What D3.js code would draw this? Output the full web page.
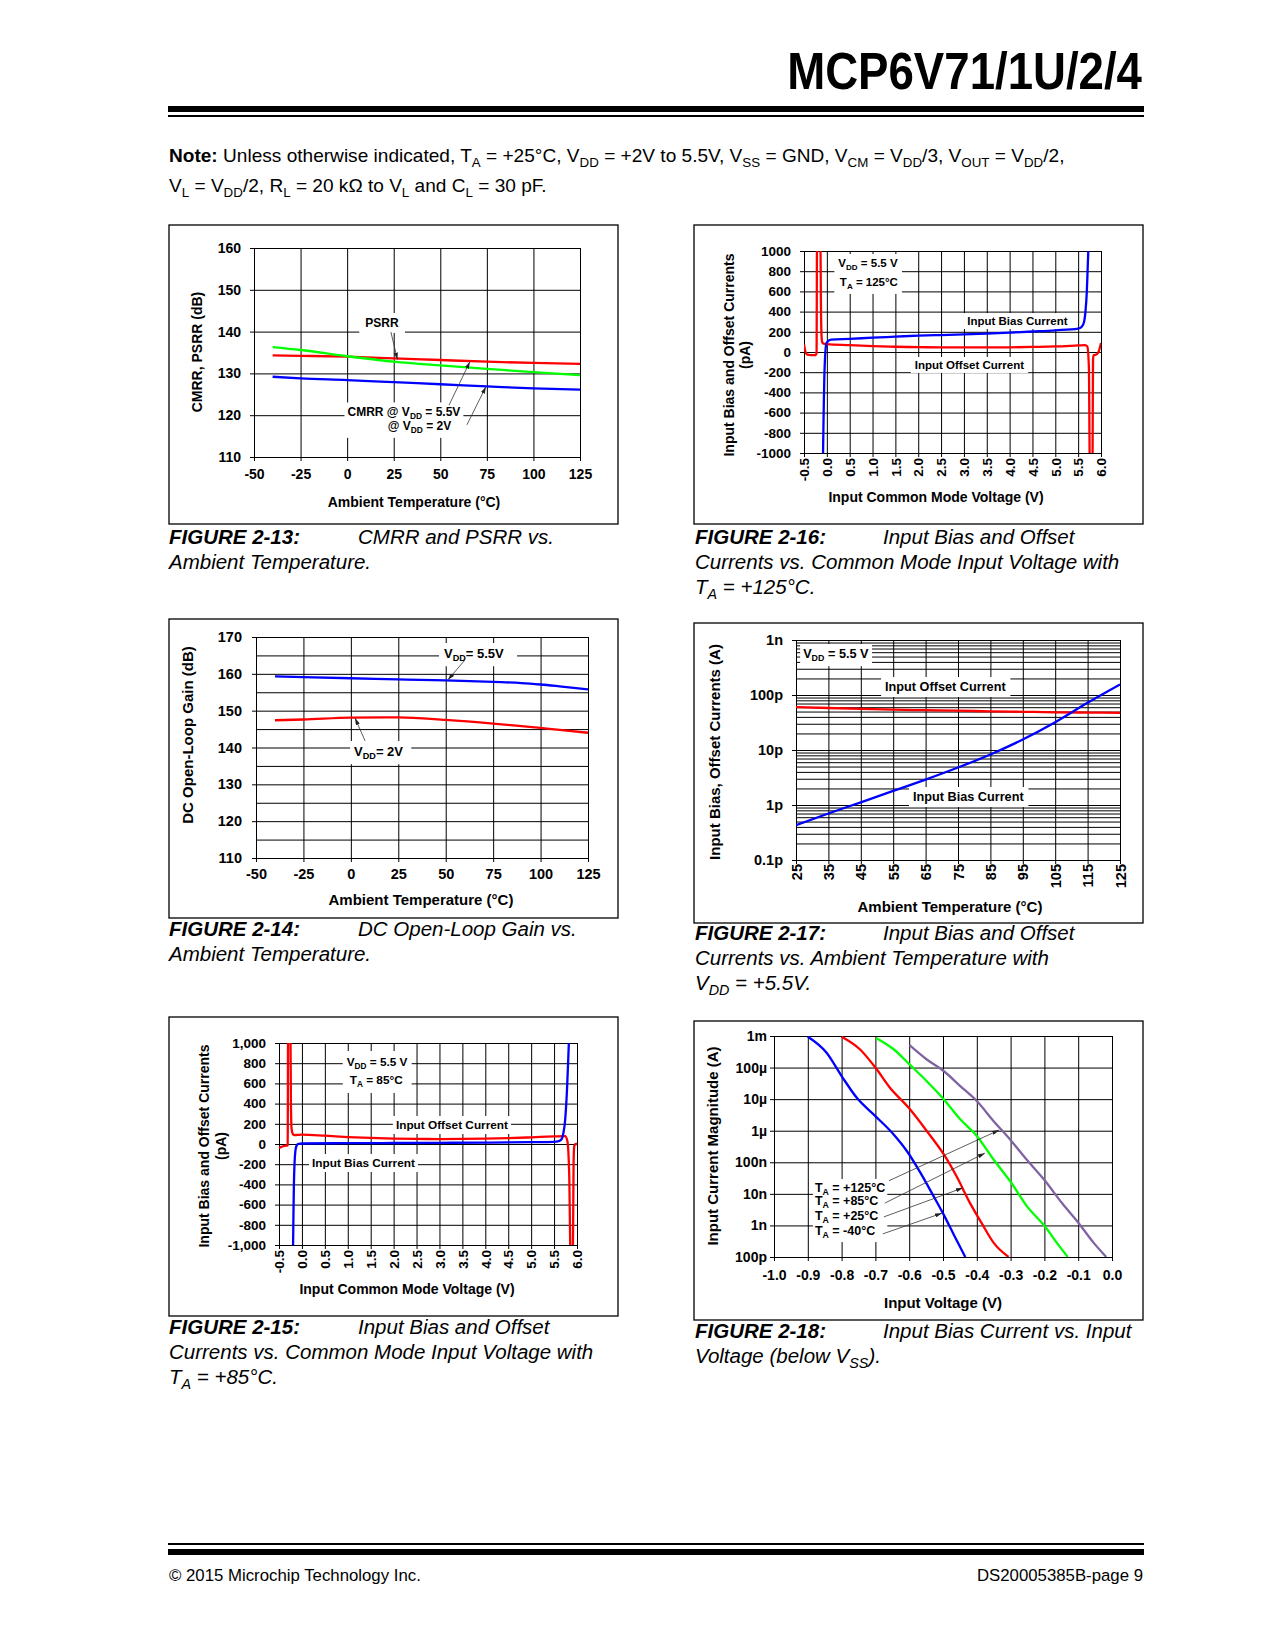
<!DOCTYPE html>
<html><head><meta charset="utf-8">
<script src="https://cdn.jsdelivr.net/npm/d3@7"></script>
<style>
body{margin:0;background:#fff;}
svg{display:block;}
svg text{font-family:"Liberation Sans", Arial, Helvetica, sans-serif;fill:#000;}
</style></head><body>
<svg id="page" width="1275" height="1650"></svg>
<script>
// ================= DATA =================
// FIGURE 2-13: CMRR and PSRR vs. Ambient Temperature
const temp13 = [-40, -25, 0, 25, 50, 75, 100, 125];
const red13 = [134.3, 134.2, 134.0, 133.6, 133.2, 132.8, 132.5, 132.3];
const green13 = [136.3, 135.6, 134.1, 132.8, 131.9, 131.1, 130.3, 129.6];
const blue13 = [129.2, 128.8, 128.4, 127.9, 127.4, 126.9, 126.4, 126.1];
const xTicks13 = [-50, -25, 0, 25, 50, 75, 100, 125];
const xLabels13 = ["-50", "-25", "0", "25", "50", "75", "100", "125"];
const yTicks13 = [110, 120, 130, 140, 150, 160];
const yLabels13 = ["110", "120", "130", "140", "150", "160"];

// FIGURE 2-14: DC Open-Loop Gain vs. Ambient Temperature
const temp14 = [-40, -25, 0, 25, 50, 75, 90, 100, 110, 125];
const blue14 = [159.3, 159.1, 158.8, 158.5, 158.2, 157.8, 157.5, 157.1, 156.6, 155.8];
const red14 = [147.4, 147.6, 148.1, 148.2, 147.5, 146.5, 145.8, 145.3, 144.8, 144.0];
const xTicks14 = [-50, -25, 0, 25, 50, 75, 100, 125];
const xLabels14 = ["-50", "-25", "0", "25", "50", "75", "100", "125"];
const yTicks14 = [110, 120, 130, 140, 150, 160, 170];
const yLabels14 = ["110", "120", "130", "140", "150", "160", "170"];
const yGrid14 = [110, 115, 120, 125, 130, 135, 140, 145, 150, 155, 160, 165, 170];

// FIGURE 2-16: Input bias / offset vs VCM, TA = 125C (pA)
const vIb16 = [-0.09, -0.083, -0.075, -0.065, -0.055, -0.04, -0.025, -0.01, 0.02, 0.06, 0.1, 0.5, 1.0, 1.5, 2.0, 2.5, 3.0, 3.5, 4.0, 4.5, 5.0, 5.5, 5.58, 5.63, 5.66, 5.69, 5.71, 5.73];
const ib16 = [-1100, -1000, -750, -480, -250, -60, 40, 85, 105, 118, 123, 130, 142, 152, 162, 168, 174, 182, 192, 203, 215, 232, 250, 300, 400, 600, 850, 1100];
const vIos16 = [-0.5, -0.47, -0.44, -0.4, -0.3, -0.24, -0.225, -0.215, -0.14, -0.13, -0.115, -0.1, -0.07, 0.0, 0.5, 1.0, 1.5, 2.0, 2.5, 3.0, 3.5, 4.0, 4.5, 5.0, 5.5, 5.65, 5.7, 5.735, 5.755, 5.815, 5.825, 5.84, 5.9, 5.95, 6.0];
const ios16 = [75, 5, -22, -28, -30, -30, -10, 1100, 1100, 500, 150, 95, 82, 78, 68, 58, 52, 48, 46, 45, 45, 46, 50, 55, 65, 68, 55, -150, -1100, -1100, -80, -30, -25, 5, 90];
const xTicks16 = [-0.5, 0, 0.5, 1, 1.5, 2, 2.5, 3, 3.5, 4, 4.5, 5, 5.5, 6];
const xLabels16 = ["-0.5", "0.0", "0.5", "1.0", "1.5", "2.0", "2.5", "3.0", "3.5", "4.0", "4.5", "5.0", "5.5", "6.0"];
const yTicks16 = [-1000, -800, -600, -400, -200, 0, 200, 400, 600, 800, 1000];
const yLabels16 = ["-1000", "-800", "-600", "-400", "-200", "0", "200", "400", "600", "800", "1000"];

// FIGURE 2-15: Input bias / offset vs VCM, TA = 85C (pA)
const vIb15 = [-0.2, -0.193, -0.185, -0.175, -0.16, -0.14, -0.12, -0.1, -0.07, 0.0, 1.0, 2.0, 3.0, 4.0, 5.0, 5.5, 5.6, 5.66, 5.7, 5.74, 5.78, 5.81, 5.83];
const ib15 = [-1100, -1000, -700, -400, -180, -60, -20, -5, 2, 5, 8, 10, 12, 14, 18, 22, 28, 45, 100, 230, 520, 850, 1100];
const vIos15 = [-0.5, -0.45, -0.4, -0.35, -0.32, -0.31, -0.302, -0.25, -0.24, -0.225, -0.2, -0.17, -0.1, 0.0, 0.5, 1.0, 1.5, 2.0, 2.5, 3.0, 3.5, 4.0, 4.5, 5.0, 5.5, 5.74, 5.79, 5.83, 5.86, 5.91, 5.925, 5.94, 5.97, 6.0];
const ios15 = [-40, -28, -20, -16, -15, -10, 1100, 1100, 400, 150, 100, 88, 90, 92, 82, 69, 60, 53, 50, 49, 50, 53, 58, 66, 75, 78, 30, -300, -1100, -1100, -200, -20, 0, 0];
const xTicks15 = [-0.5, 0, 0.5, 1, 1.5, 2, 2.5, 3, 3.5, 4, 4.5, 5, 5.5, 6];
const xLabels15 = ["-0.5", "0.0", "0.5", "1.0", "1.5", "2.0", "2.5", "3.0", "3.5", "4.0", "4.5", "5.0", "5.5", "6.0"];
const yTicks15 = [-1000, -800, -600, -400, -200, 0, 200, 400, 600, 800, 1000];
const yLabels15 = ["-1,000", "-800", "-600", "-400", "-200", "0", "200", "400", "600", "800", "1,000"];

// FIGURE 2-17: Input bias / offset vs temperature, VDD = 5.5V (A)
const temp17 = [25, 35, 45, 55, 65, 75, 85, 95, 105, 115, 125];
const ios17 = [60e-12, 58e-12, 56e-12, 54e-12, 53e-12, 52e-12, 50.5e-12, 49.5e-12, 48.5e-12, 48e-12, 47.5e-12];
const ib17 = [0.43e-12, 0.70e-12, 1.12e-12, 1.8e-12, 2.9e-12, 4.8e-12, 8.3e-12, 15.5e-12, 32e-12, 72e-12, 155e-12];
const xTicks17 = [25, 35, 45, 55, 65, 75, 85, 95, 105, 115, 125];
const xLabels17 = ["25", "35", "45", "55", "65", "75", "85", "95", "105", "115", "125"];
const yTicks17 = [1e-13, 1e-12, 1e-11, 1e-10, 1e-9];
const yLabels17 = ["0.1p", "1p", "10p", "100p", "1n"];

// FIGURE 2-18: Input bias current vs input voltage (below VSS) (A)
const v18m40 = [-0.9, -0.845, -0.80, -0.755, -0.70, -0.646, -0.606, -0.567, -0.528, -0.498, -0.468, -0.434];
const i18m40 = [9.5e-4, 3.0e-4, 5.4e-5, 1.1e-5, 2.9e-6, 7.6e-7, 2.2e-7, 4.7e-8, 8.5e-9, 2.2e-9, 5.1e-10, 1.0e-10];
const v18p25 = [-0.80, -0.746, -0.70, -0.657, -0.602, -0.548, -0.498, -0.46, -0.42, -0.386, -0.35, -0.306];
const i18p25 = [9.5e-4, 3.8e-4, 1.0e-4, 2.3e-5, 5.4e-6, 9.8e-7, 1.8e-7, 3.6e-8, 5.1e-9, 1.2e-9, 2.8e-10, 1.0e-10];
const v18p85 = [-0.698, -0.646, -0.597, -0.548, -0.498, -0.449, -0.40, -0.35, -0.301, -0.252, -0.197, -0.163, -0.131];
const i18p85 = [8.7e-4, 3.8e-4, 1.2e-4, 3.7e-5, 1.0e-5, 2.3e-6, 6.8e-7, 1.2e-7, 2.5e-8, 4.1e-9, 8.9e-10, 2.8e-10, 1.0e-10];
const v18p125 = [-0.599, -0.548, -0.498, -0.449, -0.40, -0.35, -0.301, -0.252, -0.197, -0.148, -0.099, -0.054, -0.017];
const i18p125 = [5.1e-4, 1.8e-4, 7.8e-5, 2.6e-5, 8.7e-6, 2.0e-6, 5.2e-7, 1.2e-7, 2.5e-8, 5.1e-9, 1.2e-9, 2.8e-10, 1.0e-10];
const xTicks18 = [-1.0, -0.9, -0.8, -0.7, -0.6, -0.5, -0.4, -0.3, -0.2, -0.1, 0.0];
const xLabels18 = ["-1.0", "-0.9", "-0.8", "-0.7", "-0.6", "-0.5", "-0.4", "-0.3", "-0.2", "-0.1", "0.0"];
const yTicks18 = [1e-10, 1e-9, 1e-8, 1e-7, 1e-6, 1e-5, 1e-4, 1e-3];
const yLabels18 = ["100p", "1n", "10n", "100n", "1µ", "10µ", "100µ", "1m"];

// ================= DRAWING =================
const FONT = '"Liberation Sans", Arial, Helvetica, sans-serif';
const RED = '#ff0000', BLUE = '#0000ff', GREEN = '#00ff00', PURPLE = '#8064a2';
const svg = d3.select('#page');
const defs = svg.append('defs');
defs.append('marker').attr('id', 'arr').attr('viewBox', '0 0 10 6').attr('refX', 10).attr('refY', 3)
  .attr('markerWidth', 7).attr('markerHeight', 4.2).attr('markerUnits', 'userSpaceOnUse').attr('orient', 'auto')
  .append('path').attr('d', 'M0,0L10,3L0,6Z').attr('fill', '#222');
let clipN = 0;

function rich(t, str, fs) {
  const re = /\{([^}]*)\}/g; let last = 0, m; const parts = [];
  while ((m = re.exec(str))) { if (m.index > last) parts.push([str.slice(last, m.index), false]); parts.push([m[1], true]); last = re.lastIndex; }
  if (last < str.length) parts.push([str.slice(last), false]);
  let shift = 0;
  parts.forEach(([s, sub]) => {
    const ts = t.append('tspan').text(s);
    if (sub) { ts.attr('font-size', fs * 0.7).attr('dy', fs * 0.25); shift = fs * 0.25; }
    else if (shift) { ts.attr('dy', -shift); shift = 0; }
  });
  return t;
}

function drawChart(o) {
  const g = svg.append('g');
  const [X0, X1] = o.x.range();
  const [Yb, Yt] = o.y.range();
  const W = X1 - X0, H = Yb - Yt;
  const id = 'clip' + (clipN++);
  defs.append('clipPath').attr('id', id).append('rect').attr('x', X0).attr('y', Yt).attr('width', W).attr('height', H);
  g.append('rect').attr('x', o.frame[0]).attr('y', o.frame[1]).attr('width', o.frame[2] - o.frame[0]).attr('height', o.frame[3] - o.frame[1])
    .attr('fill', 'none').attr('stroke', '#000').attr('stroke-width', 1.3);
  const grid = g.append('g');
  grid.append('g').attr('transform', `translate(0,${Yb})`).call(d3.axisBottom(o.x).tickValues(o.xGrid).tickSize(-H).tickFormat(''));
  grid.append('g').attr('transform', `translate(${X0},0)`).call(d3.axisLeft(o.y).tickValues(o.yGrid).tickSize(-W).tickFormat(''));
  grid.selectAll('.domain').remove();
  grid.selectAll('line').attr('stroke', '#000').attr('stroke-width', 1);
  const boxes = g.append('g');
  const ax = g.append('g').attr('transform', `translate(0,${Yb})`)
    .call(d3.axisBottom(o.x).tickValues(o.xTicks).tickSize(4).tickPadding(o.xPad || 8).tickFormat((d, i) => o.xLabels[i]));
  const ay = g.append('g').attr('transform', `translate(${X0},0)`)
    .call(d3.axisLeft(o.y).tickValues(o.yTicks).tickSize(4).tickPadding(o.yPad).tickFormat((d, i) => o.yLabels[i]));
  [ax, ay].forEach(a => {
    a.select('.domain').remove();
    a.attr('font-family', FONT).attr('font-size', o.fs).attr('font-weight', 'bold');
    a.selectAll('line').attr('stroke', '#000');
    a.selectAll('text').attr('fill', '#000');
  });
  if (o.rotX) {
    ax.selectAll('text').attr('transform', 'rotate(-90)').attr('x', -o.rotX).attr('y', 0).attr('dy', '0.35em').attr('text-anchor', 'end');
  }
  g.append('text').attr('x', o.xTitle[1]).attr('y', o.xTitle[2]).attr('text-anchor', 'middle')
    .attr('font-weight', 'bold').attr('font-size', o.tfs).text(o.xTitle[0]);
  o.yTitle.forEach(([t, cx]) => g.append('text').attr('transform', `translate(${cx},${o.yTitleY}) rotate(-90)`)
    .attr('text-anchor', 'middle').attr('dy', '0.35em').attr('font-weight', 'bold').attr('font-size', o.tfs).text(t));
  const lines = g.append('g').attr('clip-path', `url(#${id})`);
  const line = d3.line().x(d => o.x(d[0])).y(d => o.y(d[1])).curve(d3.curveMonotoneX);
  o.series.forEach(s => lines.append('path').datum(d3.zip(s.x, s.y)).attr('d', line)
    .attr('fill', 'none').attr('stroke', s.color).attr('stroke-width', 2.3).attr('stroke-linejoin', 'round'));
  const ann = g.append('g').attr('font-weight', 'bold').attr('font-size', o.afs);
  return { g, boxes, ann, x: o.x, y: o.y, afs: o.afs };
}

function annot(c, items, pad) {
  const nodes = items.map(it => {
    const t = c.ann.append('text').attr('x', c.x(it.x)).attr('y', c.y(it.y))
      .attr('text-anchor', it.anchor || 'start').style('white-space', 'pre');
    rich(t, it.t, c.afs);
    return t;
  });
  if (pad) {
    let x0 = 1e9, y0 = 1e9, x1 = -1e9, y1 = -1e9;
    nodes.forEach(n => { const b = n.node().getBBox(); x0 = Math.min(x0, b.x); y0 = Math.min(y0, b.y); x1 = Math.max(x1, b.x + b.width); y1 = Math.max(y1, b.y + b.height); });
    c.boxes.append('rect').attr('x', x0 - pad[0]).attr('y', y0 - pad[1]).attr('width', x1 - x0 + pad[0] + (pad[2] ?? pad[0]))
      .attr('height', y1 - y0 + 2 * pad[1]).attr('fill', '#fff');
  }
}
function arrow(c, a, b) {
  c.ann.append('line').attr('x1', c.x(a[0])).attr('y1', c.y(a[1])).attr('x2', c.x(b[0])).attr('y2', c.y(b[1]))
    .attr('stroke', '#333').attr('stroke-width', 0.8).attr('marker-end', 'url(#arr)');
}

// ---------- Header ----------
const title = svg.append('text').attr('x', 1142).attr('y', 89).attr('text-anchor', 'end')
  .attr('font-size', 52).attr('font-weight', 'bold').text('MCP6V71/1U/2/4');
function fitW(sel, target, ax) {
  const w = sel.node().getBBox().width; const s = target / w;
  sel.attr('transform', `translate(${ax},0) scale(${s},1) translate(${-ax},0)`); return s;
}
fitW(title, 355, 1142);
svg.append('rect').attr('x', 168).attr('y', 106).attr('width', 976).attr('height', 6).attr('fill', '#000');
svg.append('rect').attr('x', 168).attr('y', 115).attr('width', 976).attr('height', 2).attr('fill', '#000');

const note1 = svg.append('text').attr('x', 169).attr('y', 162).attr('font-size', 19).style('white-space', 'pre');
note1.append('tspan').attr('font-weight', 'bold').text('Note:');
rich(note1, ' Unless otherwise indicated, T{A} = +25°C, V{DD} = +2V to 5.5V, V{SS} = GND, V{CM} = V{DD}/3, V{OUT} = V{DD}/2,', 19);
const ns = fitW(note1, 896, 169);
const note2 = svg.append('text').attr('x', 169).attr('y', 192).attr('font-size', 19).style('white-space', 'pre');
rich(note2, 'V{L} = V{DD}/2, R{L} = 20 kΩ to V{L} and C{L} = 30 pF.', 19);
note2.attr('transform', `translate(169,0) scale(${ns},1) translate(-169,0)`);

// ---------- Captions ----------
function caption(x, xd, y, head, desc, more) {
  const t = svg.append('text').attr('x', x).attr('y', y).attr('font-size', 20.5).attr('font-style', 'italic');
  t.append('tspan').attr('font-weight', 'bold').text(head);
  svg.append('text').attr('x', xd).attr('y', y).attr('font-size', 20.5).attr('font-style', 'italic').text(desc);
  more.forEach((s, i) => rich(svg.append('text').attr('x', x).attr('y', y + 25 * (i + 1)).attr('font-size', 20.5)
    .attr('font-style', 'italic').style('white-space', 'pre'), s, 20.5));
}
caption(169, 358, 544, 'FIGURE 2-13:', 'CMRR and PSRR vs.', ['Ambient Temperature.']);
caption(695, 883, 544, 'FIGURE 2-16:', 'Input Bias and Offset', ['Currents vs. Common Mode Input Voltage with', 'T{A} = +125°C.']);
caption(169, 358, 936, 'FIGURE 2-14:', 'DC Open-Loop Gain vs.', ['Ambient Temperature.']);
caption(695, 883, 940, 'FIGURE 2-17:', 'Input Bias and Offset', ['Currents vs. Ambient Temperature with', 'V{DD} = +5.5V.']);
caption(169, 358, 1334, 'FIGURE 2-15:', 'Input Bias and Offset', ['Currents vs. Common Mode Input Voltage with', 'T{A} = +85°C.']);
caption(695, 883, 1338, 'FIGURE 2-18:', 'Input Bias Current vs. Input', ['Voltage (below V{SS}).']);

// ---------- Footer ----------
svg.append('rect').attr('x', 168).attr('y', 1543).attr('width', 976).attr('height', 2).attr('fill', '#000');
svg.append('rect').attr('x', 168).attr('y', 1549).attr('width', 976).attr('height', 6).attr('fill', '#000');
svg.append('text').attr('x', 169).attr('y', 1581).attr('font-size', 16.8).text('© 2015 Microchip Technology Inc.');
svg.append('text').attr('x', 1143).attr('y', 1581).attr('font-size', 16.8).attr('text-anchor', 'end').text('DS20005385B-page 9');

// ---------- Figure 2-13 ----------
const c13 = drawChart({
  frame: [169, 225, 618, 524],
  x: d3.scaleLinear([-50, 125], [254, 580]), y: d3.scaleLinear([110, 160], [457, 248]),
  xGrid: xTicks13, yGrid: yTicks13, xTicks: xTicks13, xLabels: xLabels13, yTicks: yTicks13, yLabels: yLabels13,
  fs: 14, xPad: 8, yPad: 9, tfs: 14, afs: 12,
  xTitle: ['Ambient Temperature (°C)', 414, 507], yTitle: [['CMRR, PSRR (dB)', 197]], yTitleY: 352,
  series: [{ x: temp13, y: blue13, color: BLUE }, { x: temp13, y: red13, color: RED }, { x: temp13, y: green13, color: GREEN }]
});
annot(c13, [{ t: 'PSRR', x: 18.7, y: 141.1, anchor: 'middle' }], [6, 3]);
arrow(c13, [23.5, 139.9], [27, 133.3]);
annot(c13, [{ t: 'CMRR @ V{DD} = 5.5V', x: 0.2, y: 119.7 }, { t: '@ V{DD} = 2V', x: 21.8, y: 116.5 }], [3, 3]);
arrow(c13, [54.7, 122.4], [65.9, 132.8]);
arrow(c13, [64.3, 117.7], [74.5, 126.8]);

// ---------- Figure 2-16 ----------
const c16 = drawChart({
  frame: [694, 225, 1143, 524],
  x: d3.scaleLinear([-0.5, 6], [804, 1101]), y: d3.scaleLinear([-1000, 1000], [453, 251]),
  xGrid: xTicks16, yGrid: yTicks16, xTicks: xTicks16, xLabels: xLabels16, yTicks: yTicks16, yLabels: yLabels16,
  fs: 13.5, rotX: 5, yPad: 9, tfs: 14, afs: 11.5,
  xTitle: ['Input Common Mode Voltage (V)', 936, 502], yTitle: [['Input Bias and Offset Currents', 729], ['(pA)', 745]], yTitleY: 355,
  series: [{ x: vIos16, y: ios16, color: RED }, { x: vIb16, y: ib16, color: BLUE }]
});
annot(c16, [{ t: 'V{DD} = 5.5 V', x: 0.90, y: 842, anchor: 'middle' }, { t: 'T{A} = 125°C', x: 0.92, y: 653, anchor: 'middle' }], [4, 3]);
annot(c16, [{ t: 'Input Bias Current', x: 4.17, y: 267, anchor: 'middle' }], [4, 2]);
annot(c16, [{ t: 'Input Offset Current', x: 3.12, y: -168, anchor: 'middle' }], [4, 2]);

// ---------- Figure 2-14 ----------
const c14 = drawChart({
  frame: [169, 619, 618, 918],
  x: d3.scaleLinear([-50, 125], [256, 588]), y: d3.scaleLinear([110, 170], [858, 637]),
  xGrid: xTicks14, yGrid: yGrid14, xTicks: xTicks14, xLabels: xLabels14, yTicks: yTicks14, yLabels: yLabels14,
  fs: 14.5, xPad: 7, yPad: 10, tfs: 15, afs: 13,
  xTitle: ['Ambient Temperature (°C)', 421, 905], yTitle: [['DC Open-Loop Gain (dB)', 188]], yTitleY: 735,
  series: [{ x: temp14, y: blue14, color: BLUE }, { x: temp14, y: red14, color: RED }]
});
annot(c14, [{ t: 'V{DD}= 5.5V', x: 49.1, y: 164.3 }], [5, 3, 13]);
arrow(c14, [60.2, 163.8], [51.2, 158.4]);
annot(c14, [{ t: 'V{DD}= 2V', x: 1.7, y: 137.7 }], [4, 3, 8]);
arrow(c14, [7.5, 141.8], [2.2, 148.0]);

// ---------- Figure 2-17 ----------
const yGrid17 = [];
[-13, -12, -11, -10].forEach(e => { for (let k = 1; k <= 9; k++) yGrid17.push(k * Math.pow(10, e)); });
yGrid17.push(1e-9);
const c17 = drawChart({
  frame: [694, 623, 1143, 923],
  x: d3.scaleLinear([25, 125], [796, 1120]), y: d3.scaleLog([1e-13, 1e-9], [860, 640]),
  xGrid: xTicks17, yGrid: yGrid17, xTicks: xTicks17, xLabels: xLabels17, yTicks: yTicks17, yLabels: yLabels17,
  fs: 14.5, rotX: 4, yPad: 9, tfs: 15, afs: 12.7,
  xTitle: ['Ambient Temperature (°C)', 950, 912], yTitle: [['Input Bias, Offset Currents (A)', 715]], yTitleY: 752,
  series: [{ x: temp17, y: ios17, color: RED }, { x: temp17, y: ib17, color: BLUE }]
});
annot(c17, [{ t: 'V{DD} = 5.5 V', x: 27.2, y: 4.7e-10 }], [3, 3]);
annot(c17, [{ t: 'Input Offset Current', x: 52.5, y: 1.18e-10 }], [4, 3]);
annot(c17, [{ t: 'Input Bias Current', x: 61.1, y: 1.18e-12 }], [4, 3]);

// ---------- Figure 2-15 ----------
const c15 = drawChart({
  frame: [169, 1017, 618, 1316],
  x: d3.scaleLinear([-0.5, 6], [279, 577]), y: d3.scaleLinear([-1000, 1000], [1245, 1043]),
  xGrid: xTicks15, yGrid: yTicks15, xTicks: xTicks15, xLabels: xLabels15, yTicks: yTicks15, yLabels: yLabels15,
  fs: 13.5, rotX: 5, yPad: 9, tfs: 14, afs: 11.8,
  xTitle: ['Input Common Mode Voltage (V)', 407, 1294], yTitle: [['Input Bias and Offset Currents', 204], ['(pA)', 221]], yTitleY: 1146,
  series: [{ x: vIos15, y: ios15, color: RED }, { x: vIb15, y: ib15, color: BLUE }]
});
annot(c15, [{ t: 'V{DD} = 5.5 V', x: 1.64, y: 772, anchor: 'middle' }, { t: 'T{A} = 85°C', x: 1.62, y: 594, anchor: 'middle' }], [4, 4]);
annot(c15, [{ t: 'Input Offset Current', x: 2.05, y: 149 }], [3, 2]);
annot(c15, [{ t: 'Input Bias Current', x: 0.22, y: -228 }], [3, 2]);

// ---------- Figure 2-18 ----------
const c18 = drawChart({
  frame: [694, 1021, 1143, 1320],
  x: d3.scaleLinear([-1, 0], [774, 1112]), y: d3.scaleLog([1e-10, 1e-3], [1257, 1036]),
  xGrid: xTicks18, yGrid: yTicks18, xTicks: xTicks18, xLabels: xLabels18, yTicks: yTicks18, yLabels: yLabels18,
  fs: 14, xPad: 9, yPad: 3, tfs: 15, afs: 12.5,
  xTitle: ['Input Voltage (V)', 943, 1308], yTitle: [['Input Current Magnitude (A)', 713]], yTitleY: 1146,
  series: [
    { x: v18m40, y: i18m40, color: BLUE }, { x: v18p25, y: i18p25, color: RED },
    { x: v18p85, y: i18p85, color: GREEN }, { x: v18p125, y: i18p125, color: PURPLE }]
});
annot(c18, [
  { t: 'T{A} = +125°C', x: -0.879, y: 1.15e-8 }, { t: 'T{A} = +85°C', x: -0.879, y: 4.5e-9 },
  { t: 'T{A} = +25°C', x: -0.879, y: 1.5e-9 }, { t: 'T{A} = -40°C', x: -0.879, y: 5.0e-10 }], [2, 2]);
arrow(c18, [-0.66, 2.6e-8], [-0.334, 1.05e-6]);
arrow(c18, [-0.672, 5.1e-9], [-0.376, 1.95e-7]);
arrow(c18, [-0.675, 1.86e-9], [-0.441, 1.55e-8]);
arrow(c18, [-0.678, 5.4e-10], [-0.503, 2.45e-9]);
</script>
</body></html>
